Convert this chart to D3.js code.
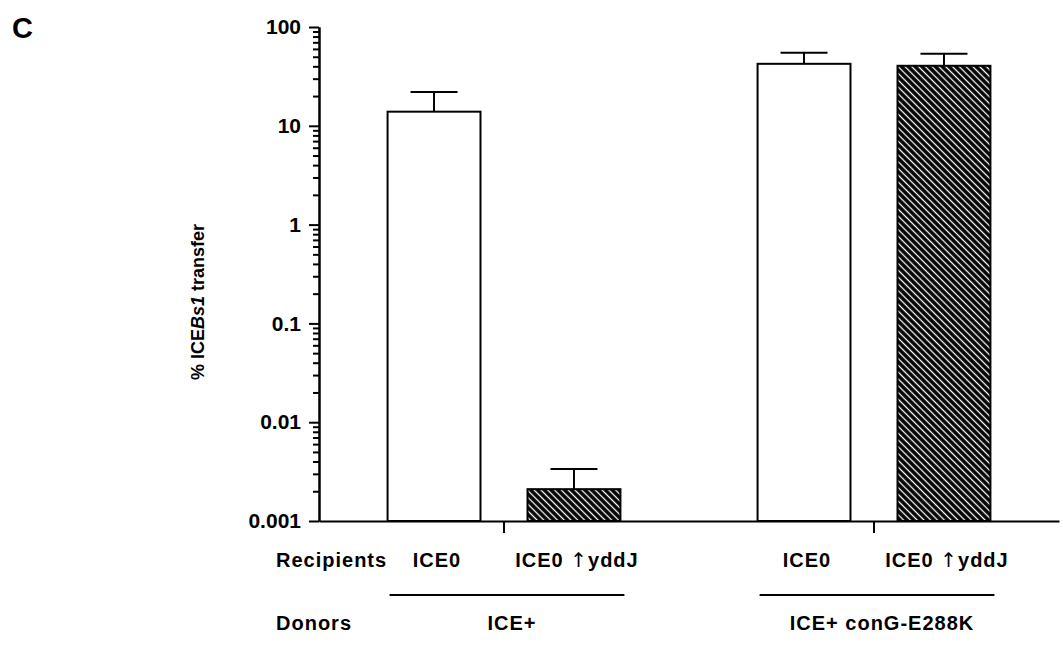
<!DOCTYPE html>
<html lang="en">
<head>
    <meta charset="UTF-8">
    <title>ICEBs1 transfer</title>
    <script src="https://d3js.org/d3.v7.min.js"></script>
    <style>
        body {
            margin: 0;
            background: #fff;
            font-family: 'Liberation Sans', Arial, sans-serif;
        }
        svg { display: block; }
        .axis path, .axis line {
            stroke: #000;
            stroke-width: 2;
        }
        .axis text {
            font-family: 'Liberation Sans', Arial, sans-serif;
            font-weight: bold;
            font-size: 21px;
            fill: #000;
        }
        .lbl {
            font-weight: bold;
            font-size: 20px;
            letter-spacing: 1px;
            fill: #000;
        }
        .arrow {
            font-family: 'DejaVu Sans', sans-serif;
            font-weight: normal;
            font-variant-emoji: text;
        }
    </style>
</head>
<body>
    <svg></svg>

    <script>
        // Data
        const donors = ["ICE+", "ICE+ conG-E288K"];
        const recipients = ["ICE0", "ICE0 \u2191yddJ"];
        const means = [13.9, 0.0021, 42.4, 40.5];
        const errTops = [22, 0.00336, 54.8, 53.6];
        const yTicks = [0.001, 0.01, 0.1, 1, 10, 100];
        const yTickLabels = ["0.001", "0.01", "0.1", "1", "10", "100"];

        const width = 1063, height = 645;
        const svg = d3.select("svg").attr("width", width).attr("height", height);

        const x0 = 319, x1 = 1059, yTop = 27, yBase = 521;

        // Scales
        const y = d3.scaleLog().domain([0.001, 100]).range([yBase, yTop]);
        const xGroup = d3.scaleBand().domain(donors).range([x0, x1]);
        const xBar = d3.scaleBand().domain(recipients)
            .range([0, xGroup.bandwidth()])
            .paddingInner(0.336).paddingOuter(0.49);

        const bars = [];
        donors.forEach((d, gi) => recipients.forEach((r, ri) => {
            const i = gi * recipients.length + ri;
            bars.push({ donor: d, recipient: r, value: means[i], top: errTops[i], hatched: ri === 1 });
        }));

        // Hatch pattern
        const defs = svg.append("defs");
        const pat = defs.append("pattern")
            .attr("id", "hatch")
            .attr("patternUnits", "userSpaceOnUse")
            .attr("width", 4.8).attr("height", 4.8)
            .attr("patternTransform", "rotate(-45)");
        pat.append("rect").attr("width", 4.8).attr("height", 4.8).attr("fill", "#000");
        pat.append("line").attr("x1", 2.4).attr("x2", 2.4).attr("y1", 0).attr("y2", 4.8)
            .attr("stroke", "#fff").attr("stroke-width", 1.3);

        // Y axis: major and minor ticks
        const minor = [];
        yTicks.slice(0, -1).forEach(t => { for (let k = 2; k <= 9; k++) minor.push(t * k); });

        svg.append("g").attr("class", "axis")
            .attr("transform", `translate(${x0},0)`)
            .call(d3.axisLeft(y).tickValues(minor).tickFormat("").tickSize(6).tickSizeOuter(0));

        svg.append("g").attr("class", "axis")
            .attr("transform", `translate(${x0},0)`)
            .call(d3.axisLeft(y).tickValues(yTicks)
                .tickFormat((d, i) => yTickLabels[i]).tickSize(10).tickSizeOuter(0).tickPadding(8));

        // Bars
        const bg = svg.append("g");
        bg.selectAll("rect.bar").data(bars).enter().append("rect")
            .attr("class", "bar")
            .attr("x", d => xGroup(d.donor) + xBar(d.recipient))
            .attr("width", xBar.bandwidth())
            .attr("y", d => y(d.value))
            .attr("height", d => yBase - y(d.value))
            .attr("fill", d => d.hatched ? "url(#hatch)" : "#fff")
            .attr("stroke", "#000").attr("stroke-width", 2);

        // Error bars (upper only)
        const cx = d => xGroup(d.donor) + xBar(d.recipient) + xBar.bandwidth() / 2;
        const capW = 47;
        bg.selectAll("line.err").data(bars).enter().append("line")
            .attr("x1", cx).attr("x2", cx)
            .attr("y1", d => y(d.value)).attr("y2", d => y(d.top))
            .attr("stroke", "#000").attr("stroke-width", 2);
        bg.selectAll("line.cap").data(bars).enter().append("line")
            .attr("x1", d => cx(d) - capW / 2).attr("x2", d => cx(d) + capW / 2)
            .attr("y1", d => y(d.top)).attr("y2", d => y(d.top))
            .attr("stroke", "#000").attr("stroke-width", 2);

        // X axis
        svg.append("g").attr("class", "axis")
            .attr("transform", `translate(0,${yBase})`)
            .call(d3.axisBottom(xGroup).tickFormat("").tickSize(12).tickSizeOuter(0));

        // Category labels
        svg.append("text").attr("class", "lbl").attr("x", 276).attr("y", 567).text("Recipients");
        svg.append("text").attr("class", "lbl").attr("x", 276).attr("y", 630).text("Donors");

        const recText = svg.selectAll("text.rec").data(bars).enter().append("text")
            .attr("class", "lbl rec")
            .attr("x", d => cx(d) + 3)
            .attr("y", 567)
            .attr("text-anchor", "middle");
        recText.each(function(d) {
            const t = d3.select(this);
            d.recipient.split(/(\u2191)/).filter(s => s).forEach(part => {
                t.append("tspan")
                    .attr("class", part === "\u2191" ? "arrow" : null)
                    .text(part);
            });
        });

        donors.forEach(d => {
            const c = xGroup(d) + xGroup.bandwidth() / 2;
            svg.append("line")
                .attr("x1", xGroup(d) + xBar(recipients[0]) + 2)
                .attr("x2", xGroup(d) + xBar(recipients[1]) + xBar.bandwidth() + 4)
                .attr("y1", 595).attr("y2", 595)
                .attr("stroke", "#000").attr("stroke-width", 2);
            svg.append("text").attr("class", "lbl")
                .attr("x", c + 8).attr("y", 630)
                .attr("text-anchor", "middle")
                .text(d);
        });

        // Y axis title
        const yt = svg.append("text")
            .attr("transform", "translate(204,302) rotate(-90)")
            .attr("text-anchor", "middle")
            .style("font-weight", "bold").style("font-size", "18px");
        yt.append("tspan").text("% ICE");
        yt.append("tspan").style("font-style", "italic").text("Bs1");
        yt.append("tspan").text(" transfer");

        // Panel letter
        svg.append("text").attr("x", 12).attr("y", 38)
            .style("font-weight", "bold").style("font-size", "29px").text("C");
    </script>
</body>
</html>
